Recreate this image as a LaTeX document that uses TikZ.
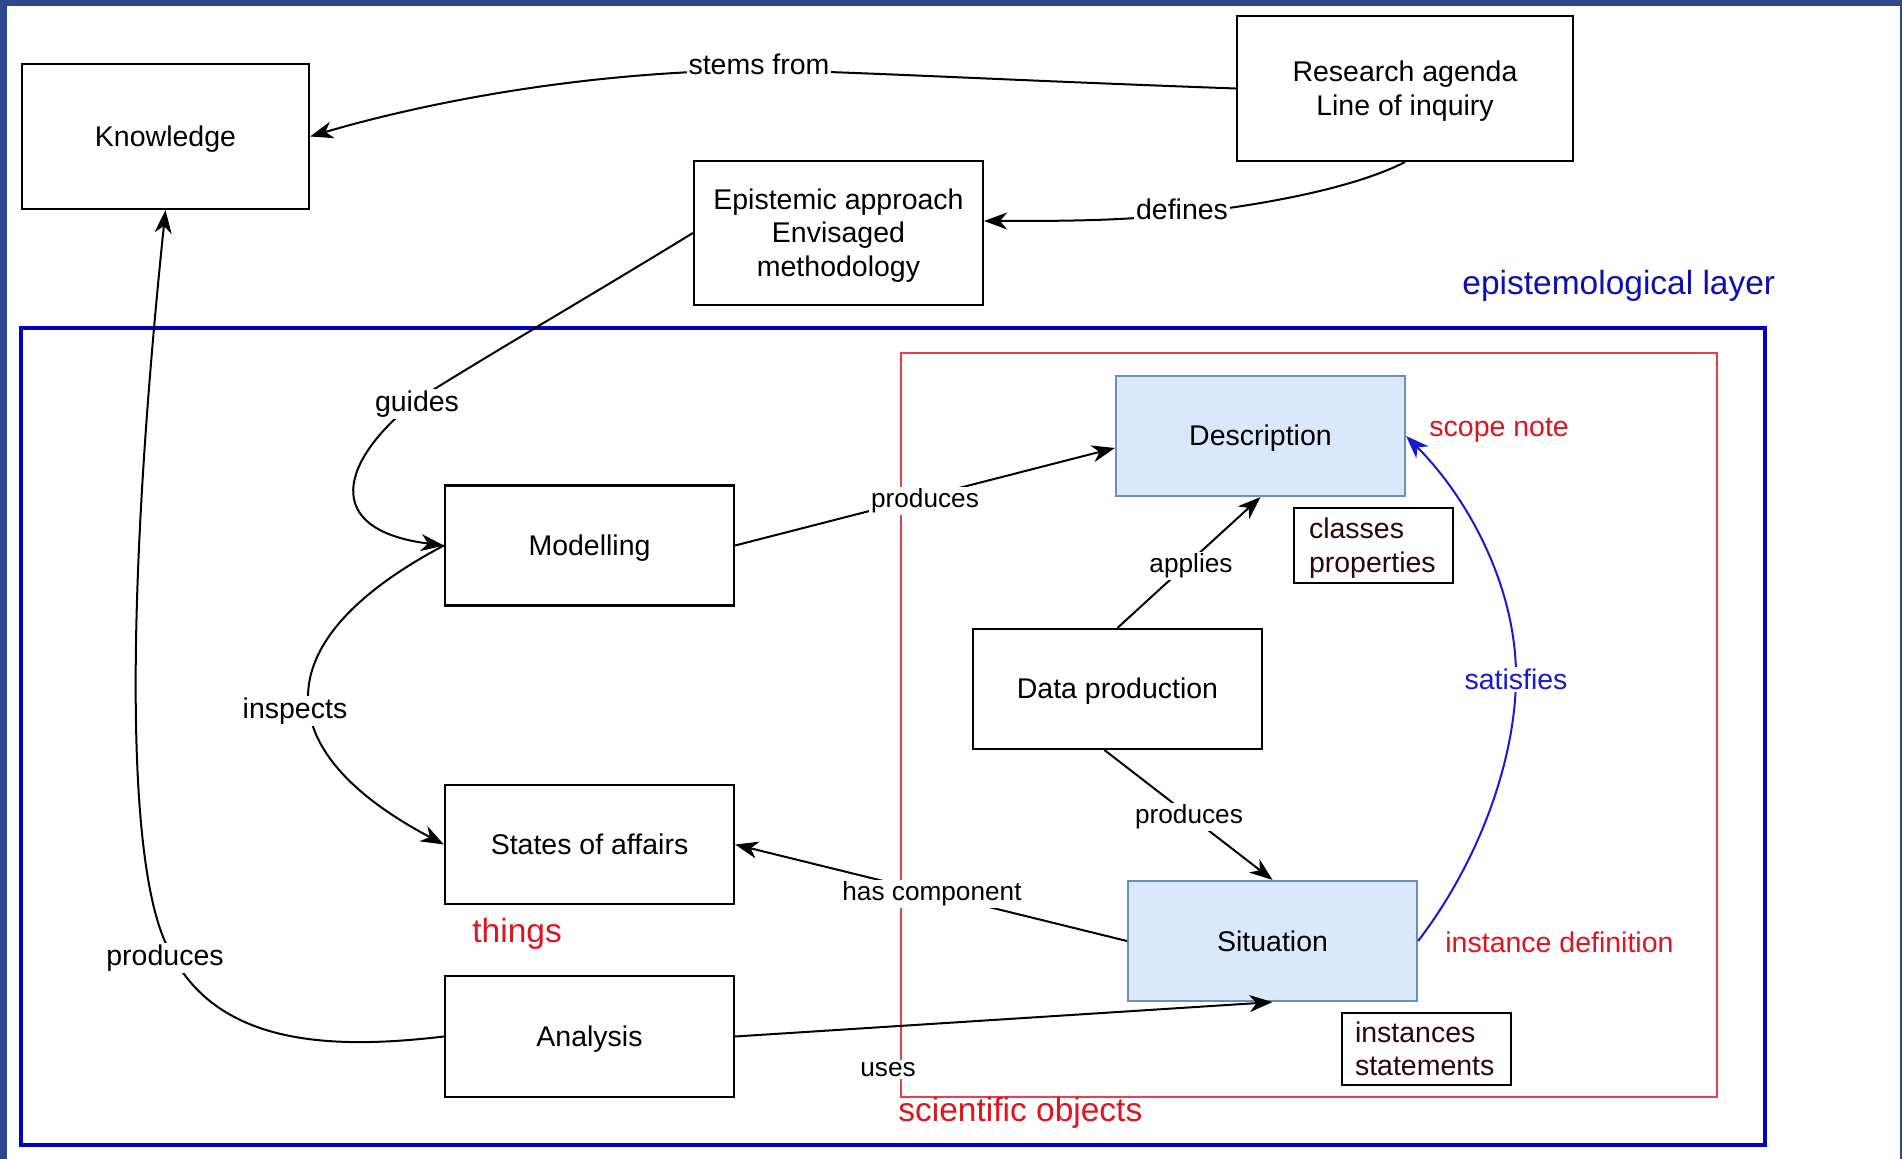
\documentclass[tikz,border=0pt]{standalone}
\usepackage{fontspec}
\setmainfont{Liberation Sans}
\usetikzlibrary{arrows.meta}
\definecolor{frameblue}{RGB}{46,72,142}
\definecolor{layerblue}{RGB}{0,0,190}
\definecolor{satblue}{RGB}{25,25,210}
\definecolor{scired}{RGB}{232,64,72}
\definecolor{labred}{RGB}{222,20,30}
\definecolor{descfill}{HTML}{DAE8FC}
\definecolor{descdraw}{HTML}{6C8EBF}
\definecolor{notetext}{RGB}{45,5,5}
\definecolor{layertext}{RGB}{15,15,175}
\newcommand\topst{\rule{0pt}{14pt}}
\newcommand\botst{\rule[-4pt]{0pt}{4pt}}
\newcommand\onest{\rule[-4pt]{0pt}{18pt}}
\begin{document}
\begin{tikzpicture}[x=0.5pt,y=-0.5pt,
  box/.style={draw=black, line width=1.1pt, fill=white, align=center, inner sep=0pt,
    font=\fontsize{14.25}{16.8}\selectfont},
  bluebox/.style={box, draw=descdraw, fill=descfill},
  notebox/.style={draw=black, line width=1.1pt, fill=white, align=left, inner ysep=0pt,
    text=notetext, font=\fontsize{14.25}{16.8}\selectfont},
  arr/.style={-{Stealth[length=11.5pt,width=8.5pt,inset=3.5pt]}, line width=1pt, black},
  sat/.style={arr, draw=satblue, -{Stealth[length=11.5pt,width=8.5pt,inset=3.5pt,fill=satblue]}},
  lab/.style={fill=white, inner sep=1pt, anchor=base, font=\fontsize{14.25}{16.8}\selectfont},
  ilab/.style={lab, font=\fontsize{13.1}{15.5}\selectfont},
  redtxt/.style={anchor=base west, inner sep=0pt, text=labred},
  bigtxt/.style={font=\fontsize{16.75}{19}\selectfont}
]
\useasboundingbox (0,0) rectangle (1902,1159);
\fill[frameblue] (0,0) rectangle (1902,1159);
\fill[white] (7,6) rectangle (1900,1159);

% layers
\draw[layerblue, line width=2.4pt] (21,328) rectangle (1765,1145);
\draw[scired, line width=0.9pt] (901,353) rectangle (1717,1097);

% nodes
\node[box, minimum width=143.5pt, minimum height=72.5pt] (know) at (165.5,136.5) {\onest Knowledge};
\node[box, minimum width=168pt, minimum height=72.5pt] (res) at (1405,88.5) {\topst Research agenda\\Line of inquiry\botst};
\node[box, minimum width=144.5pt, minimum height=72pt] (epi) at (838.5,233) {\topst Epistemic approach\\Envisaged\\methodology\botst};
\node[box, minimum width=144.5pt, minimum height=60pt] (model) at (589.5,545.5) {\onest Modelling};
\node[box, minimum width=144.5pt, minimum height=60pt] (dp) at (1117.5,689) {\onest Data production};
\node[box, minimum width=144.5pt, minimum height=59.5pt] (states) at (589.5,844.5) {\onest States of affairs};
\node[box, minimum width=144.5pt, minimum height=60.5pt] (ana) at (589.5,1036.5) {\onest Analysis};
\node[bluebox, minimum width=144.5pt, minimum height=60pt] (desc) at (1260.5,436) {\onest Description};
\node[bluebox, minimum width=144.5pt, minimum height=60pt] (sit) at (1272.5,941) {\onest Situation};
\node[notebox, text width=64.5pt, inner xsep=7.5pt, minimum height=37.5pt] (cls) at (1373.5,545.5) {\topst classes\\properties\botst};
\node[notebox, text width=71.5pt, inner xsep=6.5pt, minimum height=36pt] (inst) at (1426.5,1049) {\topst instances\\statements\botst};

% connectors
\draw[arr] (res.west) .. controls (1000,80) and (860,72) .. (759,70)
  .. controls (560,72) and (400,110) .. (know.east);
\draw[arr] (res.south) .. controls (1360,185) and (1280,203) .. (1182,214)
  .. controls (1120,221) and (1060,221) .. ([yshift=6pt]epi.east);
\draw[arr] (epi.west) .. controls (600,290) and (480,360) .. (417,400)
  .. controls (340,460) and (320,530) .. (model.west);
\draw[arr] (model.west) .. controls (265,640) and (265,750) .. (states.west);
\draw[arr] (ana.west) .. controls (330,1050) and (220,1045) .. (172,955)
  .. controls (125,880) and (125,600) .. (know.south);
\draw[arr] (model.east) -- ([yshift=-6pt]desc.west);
\draw[arr] (dp.north) -- (desc.south);
\draw[arr] ([xshift=-6.5pt]dp.south) -- (sit.north);
\draw[arr] (sit.west) -- (states.east);
\draw[arr] (ana.east) -- (sit.south);
\draw[sat] (sit.east) .. controls (1480,860) and (1515,760) .. (1516,679)
  .. controls (1517,590) and (1470,500) .. (desc.east);

% connector labels
\node[lab] (lstems) at (759,74.5) {stems from};
\node[lab] (ldef) at (1182,219.5) {defines};
\node[lab] (lguide) at (417,411.5) {guides};
\node[lab] (linsp) at (295,718.5) {inspects};
\node[lab] (lprodk) at (165,965.5) {produces};
\node[ilab] (lprodd) at (925,508) {produces};
\node[ilab] (lapp) at (1191,573) {applies};
\node[ilab] (lprods) at (1189,824) {produces};
\node[ilab] (lhas) at (932,901) {has component};
\node[ilab] (luses) at (888,1076.5) {uses};
\node[lab, text=satblue] (lsat) at (1516,689.5) {satisfies};

% free texts
\node[redtxt, font=\fontsize{14.25}{16.8}\selectfont] (tscope) at (1429,436.5) {scope note};
\node[redtxt, font=\fontsize{14.25}{16.8}\selectfont] (tinst) at (1445,952.5) {instance definition};
\node[redtxt, bigtxt] (tthings) at (472,942.5) {things};
\node[redtxt, bigtxt] (tsci) at (898,1121) {scientific objects};
\node[redtxt, bigtxt, text=layertext] (tlayer) at (1462,295) {epistemological layer};
\end{tikzpicture}
\end{document}
